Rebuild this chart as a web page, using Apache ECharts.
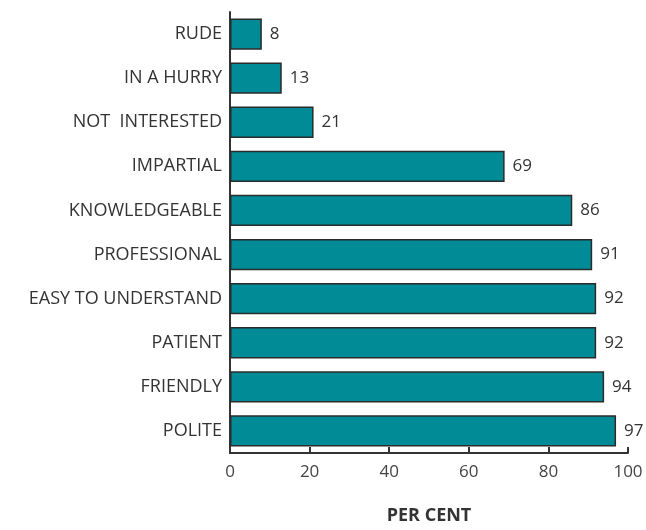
<!DOCTYPE html>
<html>
<head>
<meta charset="utf-8">
<script src="https://cdn.jsdelivr.net/npm/echarts@6/dist/echarts.min.js"></script>
<style>
  html, body { margin: 0; padding: 0; background: #fff; }
  #main { width: 646px; height: 530px; }
</style>
</head>
<body>
<div id="main"></div>
<script>
// categories top to bottom
var categories = ['RUDE', 'IN A HURRY', 'NOT  INTERESTED', 'IMPARTIAL', 'KNOWLEDGEABLE',
  'PROFESSIONAL', 'EASY TO UNDERSTAND', 'PATIENT', 'FRIENDLY', 'POLITE'];
var values = [8, 13, 21, 69, 86, 91, 92, 92, 94, 97];
var xTicks = [0, 20, 40, 60, 80, 100];

var myChart = echarts.init(document.getElementById('main'));
myChart.setOption({
  animation: false,
  textStyle: { fontFamily: 'Open Sans' },
  grid: { left: 230, right: 18, top: 12, bottom: 68, containLabel: false },
  xAxis: {
    type: 'value',
    min: xTicks[0],
    max: xTicks[xTicks.length - 1],
    interval: 20,
    name: 'PER CENT',
    nameLocation: 'middle',
    nameGap: 54,
    nameTextStyle: { color: '#333', fontSize: 18, fontWeight: 'bold' },
    axisLine: { show: true, lineStyle: { color: '#333', width: 2 } },
    axisTick: { show: true, inside: true, length: 6, lineStyle: { color: '#333', width: 2 } },
    axisLabel: { color: '#444', fontSize: 17, margin: 11 },
    splitLine: { show: false }
  },
  yAxis: {
    type: 'category',
    data: categories,
    inverse: true,
    axisLine: { show: true, lineStyle: { color: '#333', width: 2 } },
    axisTick: { show: false },
    axisLabel: { color: '#333', fontSize: 18, margin: 8 }
  },
  series: [{
    type: 'bar',
    data: values,
    barCategoryGap: '29%',
    itemStyle: { color: '#008b96', borderColor: '#2b2b2b', borderWidth: 1.5 },
    label: { show: true, position: 'right', distance: 8, color: '#333', fontSize: 17 }
  }]
});
</script>
</body>
</html>
